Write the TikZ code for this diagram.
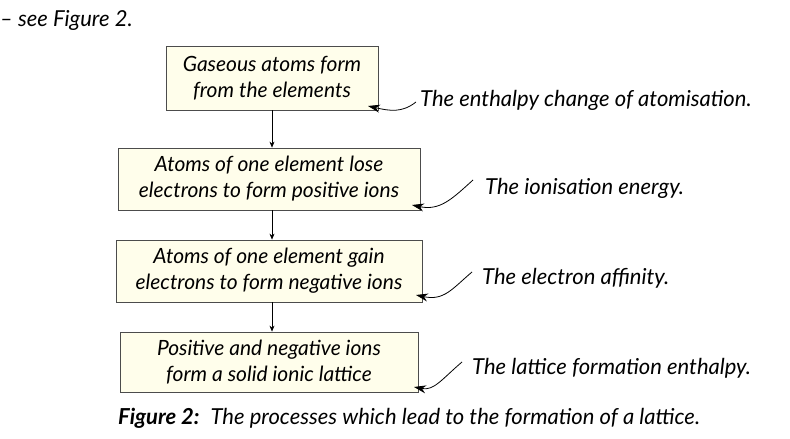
\documentclass[tikz,border=0pt]{standalone}
\usepackage{fontspec}
\setmainfont{Lato}
\usetikzlibrary{arrows.meta}
\tikzset{
  box/.style={draw=black!70, fill=yellow!8, line width=0.8pt, align=center, font=\fontsize{21}{26}\selectfont\itshape, inner sep=0pt},
  lbl/.style={anchor=west, font=\fontsize{22}{26}\selectfont\itshape, inner sep=0pt},
  flow/.style={-{Stealth[length=6pt,width=5pt]}, line width=0.6pt},
  curl/.style={-{Stealth[length=12pt,width=8pt]}, line width=0.8pt}
}
\begin{document}
\begin{tikzpicture}[x=1pt,y=1pt]
\useasboundingbox (0,0) rectangle (790,439);
\node[lbl] (see) at (0,419) {– see Figure 2.};
\node[box, minimum width=212, minimum height=64] (b1) at (272,361) {Gaseous atoms form\\from the elements};
\node[box, minimum width=302, minimum height=62] (b2) at (269,260) {Atoms of one element lose\\electrons to form positive ions};
\node[box, minimum width=306, minimum height=62] (b3) at (269,168) {Atoms of one element gain\\electrons to form negative ions};
\node[box, minimum width=298, minimum height=60] (b4) at (269,77) {Positive and negative ions\\form a solid ionic lattice};
\draw[flow] (b1.south -| 272,0) -- (b2.north -| 272,0);
\draw[flow] (b2.south -| 272,0) -- (b3.north -| 272,0);
\draw[flow] (b3.south -| 272,0) -- (b4.north -| 272,0);
\node[lbl] (l1) at (420,339) {The enthalpy change of atomisation.};
\node[lbl] (l2) at (485,251) {The ionisation energy.};
\node[lbl] (l3) at (482,161) {The electron affinity.};
\node[lbl] (l4) at (472,71) {The lattice formation enthalpy.};
\coordinate (c1) at (368,333);
\coordinate (c2) at (412,234);
\coordinate (c3) at (416,144);
\coordinate (c4) at (414,52);
\draw[curl] (l1.west) ++(-4,-2) .. controls (402,326) and (390,328) .. (c1);
\draw[curl] (l2.west) ++(-12,8) .. controls (452,240) and (440,228) .. (c2);
\draw[curl] (l3.west) ++(-10,6) .. controls (452,150) and (444,138) .. (c3);
\draw[curl] (l4.west) ++(-10,6) .. controls (442,60) and (434,48) .. (c4);
\node[anchor=west, inner sep=0pt, font=\fontsize{22}{26}\selectfont\itshape] (cap) at (118,21) {\textbf{Figure 2:}\enspace The processes which lead to the formation of a lattice.};
\end{tikzpicture}
\end{document}
